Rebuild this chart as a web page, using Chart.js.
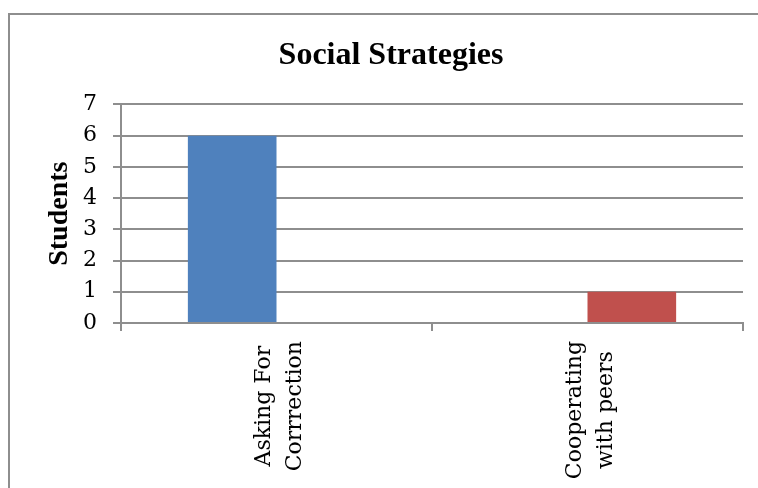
<!DOCTYPE html>
<html>
<head>
<meta charset="utf-8">
<script src="https://cdn.jsdelivr.net/npm/chart.js@4.4.1/dist/chart.umd.min.js"></script>
<style>
  html, body { margin: 0; padding: 0; background: #fff; overflow: hidden; }
  #wrap { position: relative; width: 758px; height: 488px; }
  #frame { position: absolute; left: 8px; top: 13px; width: 800px; height: 600px; border: 2px solid #8e8e8e; pointer-events: none; }
  canvas { position: absolute; left: 0; top: 0; }
</style>
</head>
<body>
<div id="wrap">
  <canvas id="chart1" width="758" height="488"></canvas>
  <div id="frame"></div>
</div>
<script>
// chart data
var categories = [['Asking For', 'Corrrection'], ['Cooperating', 'with peers']];
var askingValues = [6, 0];
var cooperatingValues = [0, 1];
var yTicks = [0, 1, 2, 3, 4, 5, 6, 7];

var gridGray = '#8e8e8e';
var catFont = { family: '"DejaVu Serif", serif', size: 22, lineHeight: 1.4 };

// center the lines of each rotated category label on each other (excel style)
var centerLabels = {
  id: 'centerLabels',
  afterLayout: function (chart) {
    var scale = chart.scales.x;
    var items = scale.getLabelItems(chart.chartArea);
    var c = chart.ctx;
    c.save();
    items.forEach(function (item) {
      c.font = item.font.string;
      var lines = [].concat(item.label);
      var w = 0;
      lines.forEach(function (l) { w = Math.max(w, c.measureText(l).width); });
      item.options.textAlign = 'center';
      item.options.translation[1] += w / 2;
    });
    c.restore();
  }
};

const ctx = document.getElementById('chart1');
new Chart(ctx, {
  type: 'bar',
  data: {
    labels: categories,
    datasets: [
      { label: 'Asking For Correction', data: askingValues, backgroundColor: '#4f81bd', borderWidth: 0 },
      { label: 'Cooperating with peers', data: cooperatingValues, backgroundColor: '#c0504d', borderWidth: 0 }
    ]
  },
  plugins: [centerLabels],
  options: {
    responsive: false,
    animation: false,
    events: [],
    categoryPercentage: 0.57,
    barPercentage: 1,
    layout: { padding: { left: 39, right: 15, top: 0, bottom: 0 } },
    plugins: {
      legend: { display: false },
      tooltip: { enabled: false },
      title: {
        display: true,
        text: 'Social Strategies',
        color: '#000',
        font: { family: '"Liberation Serif", "Times New Roman", serif', size: 32, weight: 'bold' },
        padding: { top: 37, bottom: 29 }
      }
    },
    scales: {
      x: {
        grid: { display: true, drawOnChartArea: false, drawTicks: true, tickLength: 8, color: gridGray, lineWidth: 2, offset: true },
        border: { display: true, color: gridGray, width: 2 },
        ticks: {
          color: '#000',
          minRotation: 90,
          maxRotation: 90,
          padding: 10,
          labelOffset: -12,
          font: catFont
        },
        afterFit: function (scale) { scale.height = 165; }
      },
      y: {
        min: 0,
        max: 7,
        afterBuildTicks: function (scale) {
          scale.ticks = yTicks.map(function (v) { return { value: v }; });
        },
        grid: { color: gridGray, lineWidth: 2, tickLength: 8 },
        border: { display: true, color: gridGray, width: 2 },
        ticks: {
          color: '#000',
          padding: 16,
          font: { family: '"DejaVu Serif", serif', size: 22 }
        },
        title: {
          display: true,
          text: 'Students',
          color: '#000',
          font: { family: '"Liberation Serif", "Times New Roman", serif', size: 28, weight: 'bold' },
          padding: { top: 4, bottom: 0 }
        },
        afterFit: function (scale) { scale.width = 82; }
      }
    }
  }
});
</script>
</body>
</html>
